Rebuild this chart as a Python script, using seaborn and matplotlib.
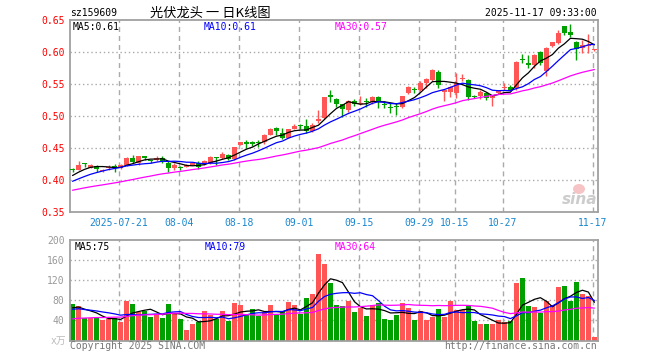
import numpy as np
import pandas as pd
import matplotlib
matplotlib.use("Agg")
import matplotlib.pyplot as plt
from matplotlib.patches import Ellipse
import seaborn as sns

# daily bars 2025-07-09 .. 2025-11-17
opens = [0.417, 0.416, 0.426, 0.419, 0.422, 0.414, 0.418, 0.421, 0.418, 0.424,
         0.435, 0.426, 0.437, 0.431, 0.431, 0.435, 0.427, 0.419, 0.420, 0.421,
         0.424, 0.427, 0.425, 0.426, 0.435, 0.435, 0.439, 0.433, 0.455, 0.458,
         0.458, 0.459, 0.459, 0.471, 0.482, 0.474, 0.466, 0.480, 0.486, 0.485,
         0.476, 0.492, 0.497, 0.533, 0.526, 0.518, 0.510, 0.523, 0.519, 0.524,
         0.522, 0.529, 0.518, 0.514, 0.515, 0.514, 0.536, 0.542, 0.541, 0.551,
         0.557, 0.568, 0.537, 0.538, 0.536, 0.558, 0.557, 0.531, 0.532, 0.536,
         0.528, 0.536, 0.544, 0.546, 0.543, 0.588, 0.583, 0.579, 0.600, 0.570,
         0.610, 0.614, 0.640, 0.632, 0.616, 0.606, 0.610, 0.603]
highs = [0.419, 0.429, 0.427, 0.425, 0.424, 0.417, 0.424, 0.425, 0.425, 0.436,
         0.439, 0.438, 0.438, 0.432, 0.437, 0.437, 0.429, 0.427, 0.422, 0.425,
         0.428, 0.429, 0.432, 0.437, 0.436, 0.443, 0.441, 0.452, 0.460, 0.463,
         0.461, 0.463, 0.472, 0.482, 0.483, 0.482, 0.480, 0.487, 0.487, 0.495,
         0.489, 0.510, 0.530, 0.540, 0.528, 0.519, 0.525, 0.526, 0.532, 0.528,
         0.531, 0.532, 0.523, 0.520, 0.520, 0.532, 0.547, 0.546, 0.555, 0.559,
         0.574, 0.572, 0.541, 0.547, 0.567, 0.566, 0.558, 0.533, 0.540, 0.537,
         0.533, 0.541, 0.551, 0.548, 0.586, 0.597, 0.596, 0.597, 0.601, 0.608,
         0.616, 0.635, 0.641, 0.644, 0.617, 0.619, 0.628, 0.605]
lows = [0.413, 0.415, 0.420, 0.418, 0.413, 0.413, 0.416, 0.413, 0.417, 0.422,
        0.426, 0.424, 0.431, 0.427, 0.429, 0.426, 0.413, 0.416, 0.415, 0.420,
        0.423, 0.417, 0.424, 0.425, 0.424, 0.433, 0.432, 0.431, 0.454, 0.450,
        0.453, 0.452, 0.457, 0.470, 0.471, 0.464, 0.465, 0.479, 0.479, 0.473,
        0.475, 0.489, 0.495, 0.522, 0.514, 0.499, 0.507, 0.515, 0.517, 0.514,
        0.519, 0.512, 0.513, 0.505, 0.501, 0.512, 0.535, 0.536, 0.539, 0.544,
        0.555, 0.544, 0.523, 0.530, 0.528, 0.554, 0.525, 0.528, 0.526, 0.525,
        0.515, 0.534, 0.541, 0.540, 0.541, 0.583, 0.575, 0.575, 0.580, 0.562,
        0.608, 0.612, 0.627, 0.623, 0.588, 0.598, 0.598, 0.601]
closes = [0.416, 0.424, 0.425, 0.423, 0.417, 0.416, 0.421, 0.420, 0.424, 0.434,
          0.428, 0.437, 0.434, 0.430, 0.435, 0.430, 0.418, 0.424, 0.419, 0.423,
          0.427, 0.421, 0.430, 0.436, 0.434, 0.441, 0.433, 0.451, 0.459, 0.457,
          0.457, 0.458, 0.471, 0.480, 0.476, 0.466, 0.479, 0.484, 0.485, 0.477,
          0.486, 0.496, 0.529, 0.530, 0.518, 0.511, 0.524, 0.518, 0.521, 0.522,
          0.529, 0.522, 0.517, 0.513, 0.514, 0.531, 0.545, 0.541, 0.552, 0.558,
          0.572, 0.548, 0.540, 0.546, 0.551, 0.560, 0.530, 0.530, 0.538, 0.528,
          0.532, 0.540, 0.545, 0.541, 0.585, 0.587, 0.579, 0.596, 0.583, 0.607,
          0.615, 0.629, 0.630, 0.626, 0.604, 0.611, 0.611, 0.604]
volumes = [72, 68, 45, 45, 45, 40, 43, 45, 36, 78,
           72, 57, 58, 46, 51, 44, 72, 55, 43, 20,
           32, 36, 58, 50, 42, 58, 39, 74, 70, 50,
           62, 49, 57, 70, 50, 56, 76, 70, 53, 84,
           92, 172, 152, 114, 70, 68, 78, 56, 64, 48,
           70, 74, 42, 40, 50, 74, 64, 40, 58, 40,
           46, 62, 46, 78, 60, 60, 68, 38, 32, 32,
           32, 40, 36, 38, 114, 124, 68, 66, 54, 78,
           70, 106, 108, 78, 116, 92, 88, 6]

# earlier sessions, only used so the moving averages start where the chart's do
prev_closes = [0.368, 0.370, 0.372, 0.371, 0.373, 0.375, 0.374, 0.376, 0.377, 0.376,
               0.378, 0.379, 0.380, 0.378, 0.381, 0.382, 0.380, 0.383, 0.384, 0.383,
               0.386, 0.388, 0.389, 0.390, 0.392, 0.398, 0.403, 0.407, 0.411]
prev_volumes = [30, 35, 28, 32, 38, 34, 30, 36, 33, 31,
                35, 29, 37, 34, 32, 36, 33, 35, 38, 35,
                55, 62, 58, 60, 60, 60, 66, 62, 65]

holidays = ["2025-10-01", "2025-10-02", "2025-10-03", "2025-10-06", "2025-10-07", "2025-10-08"]
tick_dates = ["2025-07-21", "2025-08-04", "2025-08-18", "2025-09-01", "2025-09-15",
              "2025-09-29", "2025-10-15", "2025-10-27", "2025-11-17"]
tick_labels = ["2025-07-21", "08-04", "08-18", "09-01", "09-15", "09-29", "10-15", "10-27", "11-17"]
price_ticks = [0.35, 0.40, 0.45, 0.50, 0.55, 0.60, 0.65]
vol_ticks = [40, 80, 120, 160, 200]
price_ma_labels = ["MA5:0.61", "MA10:0.61", "MA30:0.57"]
vol_ma_labels = ["MA5:75", "MA10:79", "MA30:64"]

dates = pd.bdate_range("2025-07-09", "2025-11-17")
dates = dates[~dates.isin(pd.to_datetime(holidays))]

df = pd.DataFrame({"date": dates, "open": opens, "high": highs, "low": lows,
                   "close": closes, "vol": volumes})
df["i"] = np.arange(len(df))
n_prev = len(prev_closes)
all_close = pd.Series(prev_closes + closes)
all_vol = pd.Series(prev_volumes + volumes, dtype=float)
for w in (5, 10, 30):
    df[f"ma{w}"] = all_close.rolling(w).mean().iloc[n_prev:].to_numpy()
    df[f"vma{w}"] = all_vol.rolling(w).mean().iloc[n_prev:].to_numpy()

up = df["close"] >= df["open"]
RED, GREEN = "#ff5555", "#00a000"
df["col"] = np.where(up, RED, GREEN)

sns.set_theme(style="white")
mono = "DejaVu Sans Mono"
plt.rcParams["font.family"] = [mono, "Noto Sans CJK SC"]

W, H = 660, 360
fig = plt.figure(figsize=(6.6, 3.6), dpi=100)
fig.patch.set_facecolor("white")


def fx(x):
    return x / W


def fy(y):
    return 1 - y / H


ax1 = fig.add_axes([fx(70), fy(212), (598 - 70) / W, (212 - 20) / H])
ax2 = fig.add_axes([fx(70), fy(340.5), (598 - 70) / W, (340.5 - 240) / H])

tick_pos = [df.index[df["date"] == pd.Timestamp(d)][0] - 0.3 for d in tick_dates]
xlim = (-0.42, 87.6)
GRID = "#aaaaaa"

for ax in (ax1, ax2):
    ax.set_facecolor("white")
    ax.set_xlim(*xlim)
    for s in ax.spines.values():
        s.set_color("#a0a0a0")
        s.set_linewidth(1.3)
    for p in tick_pos:
        ax.axvline(p, color=GRID, lw=1.0, ls=(0, (3.6, 2.9)), zorder=0)
    ax.tick_params(length=0)

# price panel
body_h = np.maximum((df["close"] - df["open"]).abs(), 0.0016)
ax1.vlines(df["i"], df["low"], df["high"], colors=df["col"], lw=1.0, zorder=2)
ax1.bar(df["i"], body_h, bottom=np.minimum(df["open"], df["close"]), width=0.8,
        color=df["col"], linewidth=0, zorder=3)
for col, c in (("ma5", "black"), ("ma10", "#0000ff"), ("ma30", "#ff00ff")):
    sns.lineplot(data=df, x="i", y=col, ax=ax1, color=c, lw=0.9, zorder=4)
ax1.set_ylim(0.35, 0.65)
for t in price_ticks[1:-1]:
    ax1.axhline(t, color=GRID, lw=1.0, ls=(0, (1, 2)), zorder=0)
ax1.set_yticks(price_ticks)
ax1.set_yticklabels([f"{t:.2f}" for t in price_ticks], color="red", fontsize=7, family=mono)
ax1.set_xticks(tick_pos)
ax1.set_xticklabels(tick_labels, color="#1a86cf", fontsize=7, family=mono)
ax1.tick_params(axis="x", pad=4)
ax1.tick_params(axis="y", pad=4)
ax1.set_xlabel("")
ax1.set_ylabel("")

# volume panel
ax2.bar(df["i"], df["vol"], width=0.8, color=df["col"], linewidth=0, zorder=2)
for col, c in (("vma5", "black"), ("vma10", "#0000ff"), ("vma30", "#ff00ff")):
    sns.lineplot(data=df, x="i", y=col, ax=ax2, color=c, lw=0.9, zorder=4)
ax2.set_ylim(0, 200)
for t in vol_ticks[:-1]:
    ax2.axhline(t, color=GRID, lw=1.0, ls=(0, (1, 2)), zorder=0)
ax2.set_yticks(vol_ticks)
ax2.set_yticklabels([str(t) for t in vol_ticks], color="#999999", fontsize=7, family=mono)
ax2.tick_params(axis="y", pad=4)
ax2.set_xticks([])
ax2.set_xlabel("")
ax2.set_ylabel("")

# header and labels
txt = dict(fontsize=7, family=mono, va="center")
fig.text(fx(70), fy(13), "sz159609", color="black", **txt)
fig.text(fx(150), fy(13), "光伏龙头 一 日K线图", fontsize=9.5,
         family=["Noto Sans CJK SC", "DejaVu Sans"], va="center", color="black")
fig.text(fx(597), fy(13), "2025-11-17 09:33:00", ha="right", color="black", **txt)
for xp, lab, c in zip((73, 204, 335), price_ma_labels, ("black", "#0000ff", "#ff00ff")):
    fig.text(fx(xp), fy(26.5), lab, color=c, **txt)
for xp, lab, c in zip((75, 205, 335), vol_ma_labels, ("black", "#0000ff", "#ff00ff")):
    fig.text(fx(xp), fy(246.5), lab, color=c, **txt)
fig.text(fx(66), fy(341), "x万", ha="right", fontsize=7, color="#bbbbbb", va="center",
         family=["DejaVu Sans Mono", "Noto Sans CJK SC"])
fig.text(fx(70), fy(346), "Copyright 2025 SINA.COM", color="#777777", **txt)
fig.text(fx(597), fy(346), "http://finance.sina.com.cn", ha="right", color="#777777", **txt)

# sina watermark: small pink eye above the word
fig.patches.append(Ellipse((fx(579), fy(189)), 12 / W, 10 / H, transform=fig.transFigure,
                           facecolor="#f6c4c4", edgecolor="none", zorder=5))
fig.text(fx(597), fy(200), "sina", ha="right", va="center", fontsize=11, color="#cccccc",
         style="italic", weight="bold", family="DejaVu Sans")

fig.savefig("out.png", dpi=100)
